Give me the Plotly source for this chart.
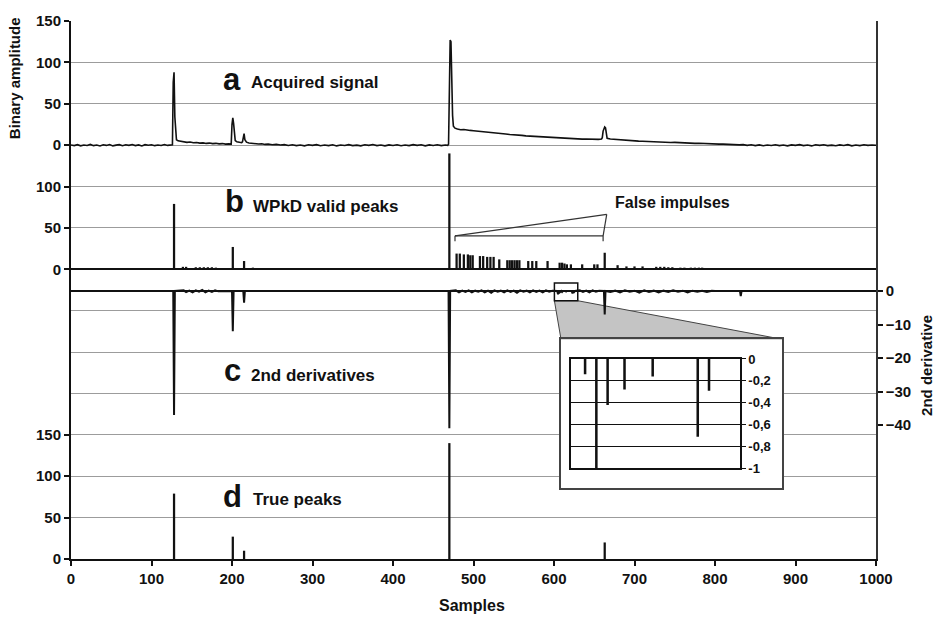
import plotly.graph_objects as go

FONT = "Liberation Sans, Arial, Helvetica, sans-serif"

# ---------------- data ----------------
# (a) acquired signal
a_samples = [0, 4, 8, 12, 16, 20, 24, 28, 32, 36, 40, 44, 48, 52, 56, 60, 64, 68, 72, 76, 80, 84, 88, 92, 96,
             100, 104, 108, 112, 116, 120, 124, 126, 127, 128, 129, 130, 131, 133, 136, 140, 144, 148, 152, 156,
             160, 164, 168, 172, 176, 180, 184, 188, 192, 196, 199, 200, 201, 202, 203, 204, 206, 209, 212, 213,
             214, 215, 216, 218, 221, 225, 229, 233, 237, 241, 245, 250, 255, 260, 265, 270, 275, 280, 285, 290,
             295, 300, 305, 310, 315, 320, 325, 330, 335, 340, 345, 350, 355, 360, 365, 370, 375, 380, 385, 390,
             395, 400, 405, 410, 415, 420, 425, 430, 435, 440, 445, 450, 455, 460, 465, 468, 469, 470, 471, 472,
             473, 474, 475, 477, 480, 484, 488, 492, 496, 500, 505, 510, 515, 520, 525, 530, 535, 540, 545, 550,
             555, 560, 565, 570, 575, 580, 585, 590, 595, 600, 605, 610, 615, 620, 625, 630, 635, 640, 645, 650,
             655, 659, 660, 661, 662, 663, 664, 665, 666, 670, 675, 680, 685, 690, 695, 700, 705, 710, 715, 720,
             725, 730, 735, 740, 745, 750, 755, 760, 765, 770, 775, 780, 785, 790, 795, 800, 805, 810, 815, 820,
             825, 830, 835, 840, 845, 850, 855, 860, 865, 870, 875, 880, 885, 890, 895, 900, 905, 910, 915, 920,
             925, 930, 935, 940, 945, 950, 955, 960, 965, 970, 975, 980, 985, 990, 995, 1000]
a_values = [0.3, -0.5, 0.6, -0.8, 0.2, -0.4, 0.9, -0.6, 0.1, -1.0, 0.5, -0.3, 0.7, -0.9, 0.0, 0.6, -0.7, 0.4, -0.2,
            0.8, -0.5, 0.3, -0.9, 0.6, -0.1, 0.5, -0.6, 0.2, -0.4, 0.7, -0.3, 0.4, 0.5, 76, 88, 34, 10, 6.5, 5.2,
            4.6, 4.0, 3.4, 3.8, 2.9, 3.2, 2.5, 2.8, 2.1, 2.5, 1.8, 2.2, 1.5, 1.9, 1.2, 1.6, 1.3, 25, 33, 26, 11,
            5.5, 4.2, 3.3, 3.0, 4, 13, 14, 6.5, 3.6, 2.6, 2.0, 2.3, 1.4, 1.7, 0.9, 1.2, 0.5, 0.9, 0.2, 0.6, -0.4,
            0.5, -0.6, 0.2, -0.8, 0.4, -0.3, 0.6, -0.7, 0.1, -0.5, 0.5, -0.9, 0.2, -0.4, 0.6, -0.6, 0.0, -0.8,
            0.4, -0.3, 0.7, -0.5, 0.1, -0.9, 0.3, -0.4, 0.5, -0.7, 0.2, -0.5, 0.6, -0.2, 0.4, -0.8, 0.3, -0.4,
            0.5, -0.6, 0.2, -0.2, 1.0, 72, 127, 125, 70, 36, 23, 20.5, 19.4, 18.6, 18.9, 18.0, 17.8, 17.4, 17.0,
            16.6, 16.1, 15.8, 15.0, 14.4, 14.0, 13.5, 12.9, 12.7, 12.1, 11.8, 11.2, 10.9, 10.3, 10.8, 9.7, 9.6,
            9.1, 9.2, 8.7, 8.6, 8.3, 8.0, 7.6, 7.5, 7.3, 7.4, 7.1, 7.2, 7.0, 7.4, 9, 17, 21.5, 22, 21, 12, 8.2,
            7.5, 7.0, 6.6, 6.1, 6.0, 5.5, 5.3, 4.9, 4.7, 4.4, 4.3, 4.0, 3.7, 3.8, 3.4, 3.2, 3.3, 2.9, 2.7, 2.8,
            2.4, 2.2, 2.3, 1.9, 1.7, 1.8, 1.4, 1.2, 1.3, 0.9, 0.7, 1.0, 0.3, 0.6, -0.2, 0.4, -0.5, 0.3, -0.7, 0.1,
            -0.4, 0.5, -0.6, 0.2, -0.8, 0.3, -0.2, 0.6, -0.5, 0.1, -0.9, 0.4, -0.3, 0.5, -0.6, 0.0, -0.7, 0.3,
            -0.4, 0.6, -0.8, 0.2, -0.5, 0.4, -0.3, 0.1, -0.2]

# (b) WPkD valid peaks
b_samples = [128, 139, 143, 155, 160, 165, 170, 175, 180, 201, 215, 226, 470, 479, 483, 488, 493, 496, 499,
             508, 512, 517, 521, 525, 532, 542, 545, 548, 551, 554, 557, 568, 573, 578, 592, 607, 610, 613,
             616, 621, 635, 650, 654, 663, 679, 690, 700, 710, 727, 732, 737, 742, 747, 757, 762, 770, 775,
             780, 784]
b_values = [79, 3, 3, 2.5, 2.5, 2.5, 2.5, 2.5, 2, 27, 10, 2, 140, 19, 19, 18, 18, 17, 17,
            16, 16, 15, 15, 15, 12, 11, 11, 11, 11, 11, 11, 10, 10, 10, 10, 8, 8, 7,
            6, 6, 6, 6, 6, 20, 5, 3.5, 3.5, 3.5, 3, 3, 3, 2.5, 2.5, 2, 2, 2, 2,
            2, 2]

# (c) 2nd derivatives
c_samples = [0, 127, 128, 129, 140, 143, 147, 151, 155, 159, 163, 167, 171, 175, 179, 183, 200, 201, 202,
             214, 215, 216, 230, 469, 470, 471,
             478, 482, 486, 490, 494, 498, 502, 506, 510, 514, 518, 522, 526, 530, 534, 538, 542, 546, 550,
             554, 558, 562, 566, 570, 574, 578, 582, 586, 590, 594, 598,
             602, 603, 604, 605, 606, 607, 608, 609, 610, 611, 614, 615, 616, 622, 623, 624, 625, 626,
             632, 636, 640, 644, 648, 652, 656, 662, 663, 664,
             670, 676, 682, 688, 694, 700, 706, 712, 718, 724, 730, 736, 742, 748, 754, 760, 766, 772, 778,
             784, 790, 796, 800, 831, 832, 833, 1000]
c_values = [0, 0, -37, 0, 0.2, -0.3, 0.1, -0.4, 0.2, -0.2, 0.3, -0.4, 0.1, -0.3, 0.2, -0.1, 0, -12, 0,
            0, -3.5, 0, 0, 0, -41, 0,
            0.2, -0.4, 0.1, -0.3, 0.2, -0.4, 0.1, -0.2, 0.2, -0.4, 0.1, -0.5, 0.2, -0.2, 0.1, -0.4, 0.2,
            -0.3, 0.1, -0.5, 0.2, -0.2, 0.1, -0.4, 0.2, -0.3, 0.1, -0.4, 0.2, -0.2, 0.1,
            0, -0.14, 0, -1.0, 0, -0.42, 0, 0, -0.28, 0, 0, -0.16, 0, 0, -0.71, 0, -0.29, 0,
            0.2, -0.3, 0.1, -0.4, 0.2, -0.2, 0.1, 0, -7, 0,
            -0.3, 0.1, -0.4, 0.2, -0.2, 0.1, -0.5, 0.2, -0.3, 0.1, -0.4, 0.1, -0.3, 0.2, -0.2, 0.1, -0.4,
            0.1, -0.2, 0.1, -0.3, 0.1, 0, 0, -1.5, 0, 0]

# (d) true peaks
d_samples = [128, 201, 215, 470, 663]
d_values = [79, 27, 10, 140, 20]

# inset (magnified 2nd derivative)
inset_samples = [603, 605, 607, 610, 615, 623, 625]
inset_values = [-0.14, -1.0, -0.42, -0.28, -0.16, -0.71, -0.29]

# axis ticks
x_ticks = list(range(0, 1001, 100))
left_tickvals = [0, 50, 100, 150, 350, 400, 450, 500, 550, 600, 650]
left_ticktext = ["0", "50", "100", "150", "0", "50", "100", "0", "50", "100", "150"]
right_tickvals = [0, -10, -20, -30, -40]
inset_tickvals = [0, -0.2, -0.4, -0.6, -0.8, -1]
inset_ticktext = ["0", "-0,2", "-0,4", "-0,6", "-0,8", "-1"]

# ---------------- geometry ----------------
W, H = 941, 622
ML, MR, MT, MB = 71, 65, 13, 63
PW, PH = W - ML - MR, H - MT - MB

X_RANGE = [0, 1000]
MAIN_RANGE = [0, 650]
B_RANGE = [-350, 300]
A_RANGE = [-500, 150]
C_RANGE = [-80.0, 80.6]
INSET_XRANGE = [600.5, 630.5]
ZOOM_X = [600.5, 629.5]
ZOOM_Y = [-2.9, 2.4]


def fx(px):
    return (px - ML) / PW


def fy(py):
    return (H - MB - py) / PH


BOX_DX = [fx(561), fx(782)]
BOX_DY = [fy(487), fy(336)]
INSET_DX = [fx(571), fx(740)]
INSET_DY = [fy(467), fy(356)]

GRID = "#9c9c9c"
BLACK = "#111111"

fig = go.Figure()
fig.add_trace(go.Bar(x=d_samples, y=d_values, width=2.8, marker=dict(color=BLACK, line=dict(width=0)),
                     xaxis="x", yaxis="y", showlegend=False))
fig.add_trace(go.Bar(x=b_samples, y=b_values, width=2.8, marker=dict(color=BLACK, line=dict(width=0)),
                     xaxis="x", yaxis="y2", showlegend=False))
fig.add_trace(go.Scatter(x=a_samples, y=a_values, mode="lines", line=dict(color=BLACK, width=1.6),
                         xaxis="x", yaxis="y3", showlegend=False))
fig.add_trace(go.Scatter(x=c_samples, y=c_values, mode="lines", line=dict(color=BLACK, width=2),
                         xaxis="x", yaxis="y4", showlegend=False))
fig.add_trace(go.Scatter(x=[None], y=[None], mode="markers", xaxis="x2", yaxis="y5",
                         showlegend=False, hoverinfo="skip"))
fig.add_trace(go.Bar(x=inset_samples, y=inset_values, width=0.45,
                     marker=dict(color=BLACK, line=dict(width=0)),
                     xaxis="x3", yaxis="y6", showlegend=False))

tickfont = dict(family=FONT, size=15, color=BLACK, weight="bold")

fig.update_layout(
    width=W, height=H,
    margin=dict(l=ML, r=MR, t=MT, b=MB),
    paper_bgcolor="white", plot_bgcolor="white",
    font=dict(family=FONT, size=15, color=BLACK, weight="bold"),
    barmode="overlay",
    xaxis=dict(domain=[0, 1], range=X_RANGE, tickvals=x_ticks, ticks="outside", ticklen=5,
               tickwidth=1.5, tickcolor=BLACK, showline=True, linecolor=BLACK, linewidth=2,
               showgrid=False, zeroline=False, tickfont=tickfont, anchor="y"),
    yaxis=dict(range=MAIN_RANGE, tickvals=left_tickvals, ticktext=left_ticktext, ticks="outside",
               ticklen=5, tickwidth=1.5, tickcolor=BLACK, showline=True, linecolor=BLACK, linewidth=2,
               showgrid=True, gridcolor=GRID, gridwidth=1, zeroline=False, tickfont=tickfont,
               minor=dict(tick0=0, dtick=50, showgrid=True, gridcolor=GRID, gridwidth=1, ticks=""),
               anchor="x"),
    yaxis2=dict(overlaying="y", range=B_RANGE, showticklabels=False, ticks="", showgrid=False,
                showline=False, zeroline=True, zerolinecolor=BLACK, zerolinewidth=2.4),
    yaxis3=dict(overlaying="y", range=A_RANGE, showticklabels=False, ticks="", showgrid=False,
                showline=False, zeroline=False),
    yaxis4=dict(overlaying="y", side="right", range=C_RANGE, tickvals=right_tickvals, ticks="outside",
                ticklen=5, tickwidth=1.5, tickcolor=BLACK, showline=True, linecolor="#333333",
                linewidth=1.5, zeroline=True, zerolinecolor=BLACK, zerolinewidth=2.4, showgrid=False,
                tickfont=tickfont, anchor="x"),
    xaxis2=dict(domain=BOX_DX, anchor="y5", range=[0, 1], showline=True, mirror=True,
                linecolor="#444444", linewidth=1.5, showticklabels=False, ticks="", showgrid=False,
                zeroline=False, fixedrange=True),
    yaxis5=dict(domain=BOX_DY, anchor="x2", range=[0, 1], showline=True, mirror=True,
                linecolor="#444444", linewidth=1.5, showticklabels=False, ticks="", showgrid=False,
                zeroline=False, fixedrange=True),
    xaxis3=dict(domain=INSET_DX, anchor="y6", range=INSET_XRANGE, showline=True, mirror=True,
                linecolor=BLACK, linewidth=1.5, showticklabels=False, ticks="", showgrid=False,
                zeroline=False),
    yaxis6=dict(domain=INSET_DY, anchor="x3", side="right", range=[-1, 0], tickvals=inset_tickvals,
                ticktext=inset_ticktext, ticks="outside", ticklen=4, tickcolor=BLACK, showline=True,
                mirror=True, linecolor=BLACK, linewidth=1.5, showgrid=True, gridcolor=BLACK,
                gridwidth=1, zeroline=False, tickfont=dict(family=FONT, size=13, color=BLACK, weight="bold")),
)

# magnifier: small box, gray trapezoid
c_span = C_RANGE[1] - C_RANGE[0]
zoom_bottom_main = (ZOOM_Y[0] - C_RANGE[0]) / c_span * MAIN_RANGE[1]
box_top_main = BOX_DY[1] * MAIN_RANGE[1]
trap_path = (f"M {ZOOM_X[0]},{zoom_bottom_main} L {BOX_DX[0] * X_RANGE[1]},{box_top_main} "
             f"L {BOX_DX[1] * X_RANGE[1]},{box_top_main} L {ZOOM_X[1]},{zoom_bottom_main} Z")
fig.add_shape(type="path", path=trap_path, xref="x", yref="y", layer="between",
              fillcolor="#c4c4c4", line=dict(color="#444444", width=1))
fig.add_shape(type="rect", xref="x", yref="y4", x0=ZOOM_X[0], x1=ZOOM_X[1], y0=ZOOM_Y[0], y1=ZOOM_Y[1],
              line=dict(color=BLACK, width=1.5), layer="above")

# "False impulses" bracket (in panel b units)
br_x0, br_x1, br_tip = 477, 661, 665.5
br_y, br_tick, br_top = 40.5, 33.9, 66.3
for (x0, y0, x1, y1) in [(br_x0, br_y, br_x1, br_y), (br_x0, br_y, br_x0, br_tick),
                         (br_x1, br_y, br_x1, br_tick), (br_x0, br_y, br_tip, br_top),
                         (br_x1, br_y, br_tip, br_top)]:
    fig.add_shape(type="line", xref="x", yref="y2", x0=x0, y0=y0, x1=x1, y1=y1,
                  line=dict(color="#333333", width=1.2), layer="above")

annotations = []


def add_text(text, px, py, size, xanchor="left", angle=0):
    annotations.append(dict(text=text, x=fx(px), y=fy(py), xref="paper", yref="paper",
                            xanchor=xanchor, yanchor="middle", showarrow=False, textangle=angle,
                            font=dict(family=FONT, size=size, color=BLACK, weight="bold")))


LET = 31
LAB = 17
panel_labels = [("a", "Acquired signal", 221, 83, 249, 81),
                ("b", "WPkD valid peaks", 223, 207, 251, 207),
                ("c", "2nd derivatives", 222, 379, 249, 379),
                ("d", "True peaks", 221, 506, 251, 505)]
for letter, label, lx, lbase, tx, tbase in panel_labels:
    add_text(letter, lx, lbase - 0.35 * LET, LET)
    add_text(label, tx, tbase - 0.35 * LAB, LAB)

add_text("False impulses", 672, 197, 16, xanchor="center")
add_text("Samples", 472, 606, 16, xanchor="center")
add_text("Binary amplitude", 14, 71, 15, xanchor="center", angle=-90)
add_text("2nd derivative", 927, 362, 15, xanchor="center", angle=-90)

fig.update_layout(annotations=annotations)

fig.write_html("out.html")
